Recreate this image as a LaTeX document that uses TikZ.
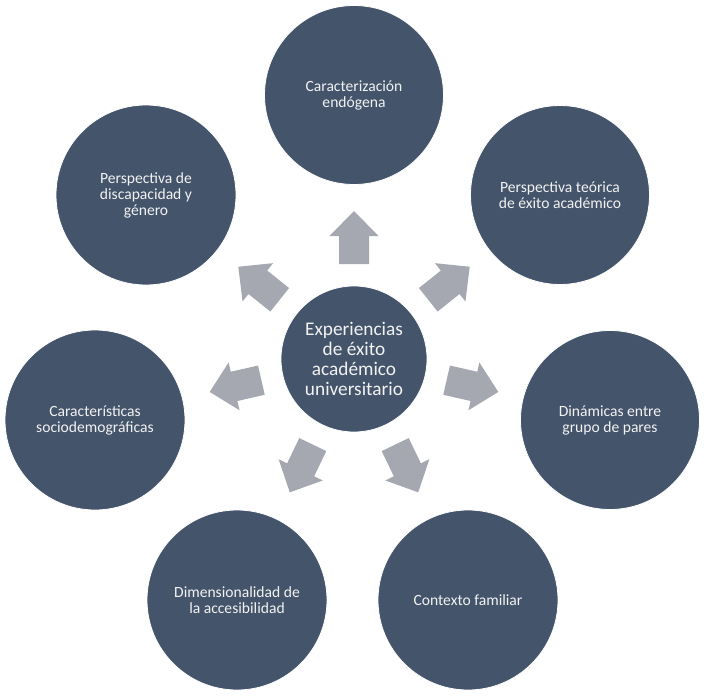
\documentclass[tikz,border=0pt]{standalone}
\usepackage{fontspec}
\setmainfont{Carlito}
\definecolor{circfill}{HTML}{44546A}
\definecolor{arrowgray}{HTML}{A5A8B0}
\definecolor{txtcol}{HTML}{F2F2F2}
\tikzset{
  outer/.style={circle, fill=circfill, draw=white, line width=0.8pt, inner sep=0pt,
    minimum size=#1, align=center, text=txtcol, font=\fontsize{15.6}{16}\selectfont},
  outer/.default=179pt,
  inner/.style={circle, fill=circfill, draw=white, line width=0.8pt, inner sep=0pt,
    minimum size=146pt, align=center, text=txtcol, font=\fontsize{19.3}{20}\selectfont},
  blockarrow/.pic={\fill[arrowgray] (95,-15) -- (123,-15) -- (123,-24.5) -- (148,0)
    -- (123,24.5) -- (123,15) -- (95,15) -- cycle;}
}
\begin{document}
\begin{tikzpicture}[x=1pt,y=-1pt]
\useasboundingbox (0,0) rectangle (707,698);
\node[outer] (top) at (354,95) {Caracterización\\endógena};
\node[outer=180pt] (ul) at (146,195) {Perspectiva de\\discapacidad y\\género};
\node[outer] (ur) at (560,195) {Perspectiva teórica\\de éxito académico};
\node[outer=180pt] (lf) at (95,420) {Características\\sociodemográficas};
\node[outer] (rt) at (610,420) {Dinámicas entre\\grupo de pares};
\node[outer=180pt] (bl) at (237,600) {Dimensionalidad de\\la accesibilidad};
\node[outer=180pt] (br) at (468,600) {Contexto familiar};
\node[inner] (ctr) at (354,359) {Experiencias\\de éxito\\académico\\universitario};
\foreach \a in {90,141.43,192.86,244.29,295.71,347.14,38.57}
  \path (ctr.center) pic[rotate=\a] {blockarrow};
\end{tikzpicture}
\end{document}
